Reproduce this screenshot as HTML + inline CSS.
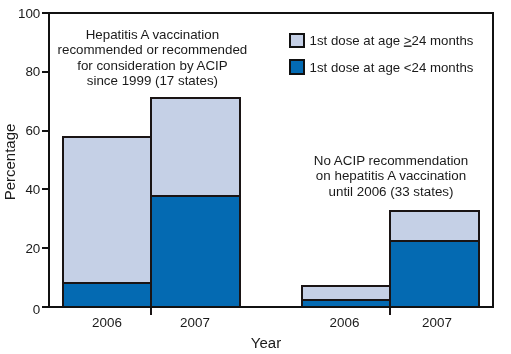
<!DOCTYPE html>
<html><head><meta charset="utf-8">
<style>
html,body{margin:0;padding:0;background:#fff;}
body{width:511px;height:354px;overflow:hidden;}
svg{display:block;will-change:transform;}
text{font-family:"Liberation Sans", sans-serif;fill:#1a1a1a;}
</style></head>
<body>
<svg width="511" height="354" viewBox="0 0 511 354">
<rect x="0" y="0" width="511" height="354" fill="#fff"/>
<g shape-rendering="crispEdges">
<rect x="62" y="136" width="90" height="171" fill="#c5d0e6"/>
<rect x="62" y="282" width="90" height="25" fill="#046ab2"/>
<rect x="150" y="97" width="91" height="210" fill="#c5d0e6"/>
<rect x="150" y="195" width="91" height="112" fill="#046ab2"/>
<rect x="301" y="285" width="90" height="22" fill="#c5d0e6"/>
<rect x="301" y="299" width="90" height="8" fill="#046ab2"/>
<rect x="389" y="210" width="91" height="97" fill="#c5d0e6"/>
<rect x="389" y="240" width="91" height="67" fill="#046ab2"/>
<g fill="#1a1414">
<rect x="62" y="136" width="2" height="171"/>
<rect x="62" y="136" width="90" height="2"/>
<rect x="62" y="282" width="90" height="2"/>
<rect x="150" y="136" width="2" height="171"/>
<rect x="150" y="97" width="2" height="218"/>
<rect x="150" y="97" width="91" height="2"/>
<rect x="150" y="195" width="91" height="2"/>
<rect x="239" y="97" width="2" height="210"/>
<rect x="301" y="285" width="2" height="22"/>
<rect x="301" y="285" width="90" height="2"/>
<rect x="301" y="299" width="90" height="2"/>
<rect x="389" y="285" width="2" height="22"/>
<rect x="389" y="210" width="2" height="105"/>
<rect x="389" y="210" width="91" height="2"/>
<rect x="389" y="240" width="91" height="2"/>
<rect x="478" y="210" width="2" height="97"/>
</g>
<g fill="#111">
<rect x="42" y="12" width="452" height="2"/>
<rect x="42" y="306" width="452" height="2"/>
<rect x="48" y="12" width="2" height="296"/>
<rect x="492" y="12" width="2" height="296"/>
<rect x="42" y="71" width="6" height="2"/>
<rect x="42" y="130" width="6" height="2"/>
<rect x="42" y="188" width="6" height="2"/>
<rect x="42" y="247" width="6" height="2"/>
</g></g>
<text font-size="13.4" text-anchor="end" transform="translate(40.3,17.6) scale(1,1.02)">100</text>
<text font-size="13.4" text-anchor="end" transform="translate(40.3,76.4) scale(1,1.02)">80</text>
<text font-size="13.4" text-anchor="end" transform="translate(40.3,135.2) scale(1,1.02)">60</text>
<text font-size="13.4" text-anchor="end" transform="translate(40.3,194.0) scale(1,1.02)">40</text>
<text font-size="13.4" text-anchor="end" transform="translate(40.3,252.8) scale(1,1.02)">20</text>
<text font-size="13.4" text-anchor="end" transform="translate(40.3,313.8) scale(1,1.02)">0</text>
<text font-size="15" text-anchor="middle" transform="translate(14.6,162) rotate(-90) scale(1,1.02)">Percentage</text>
<text font-size="13.4" text-anchor="middle" transform="translate(107,327) scale(1,1.02)">2006</text>
<text font-size="13.4" text-anchor="middle" transform="translate(195,327) scale(1,1.02)">2007</text>
<text font-size="13.4" text-anchor="middle" transform="translate(344.5,327) scale(1,1.02)">2006</text>
<text font-size="13.4" text-anchor="middle" transform="translate(437,327) scale(1,1.02)">2007</text>
<text font-size="15" text-anchor="middle" transform="translate(266,347.6) scale(1,1.02)">Year</text>
<text font-size="13.35" text-anchor="middle" transform="translate(152.4,39) scale(1,1.02)">Hepatitis A vaccination</text>
<text font-size="13.35" text-anchor="middle" transform="translate(152.4,54) scale(1,1.02)">recommended or recommended</text>
<text font-size="13.35" text-anchor="middle" transform="translate(152.4,69.5) scale(1,1.02)">for consideration by ACIP</text>
<text font-size="13.35" text-anchor="middle" transform="translate(152.4,84.8) scale(1,1.02)">since 1999 (17 states)</text>
<text font-size="13.4" text-anchor="middle" transform="translate(391,165) scale(1,1.02)">No ACIP recommendation</text>
<text font-size="13.4" text-anchor="middle" transform="translate(391,180) scale(1,1.02)">on hepatitis A vaccination</text>
<text font-size="13.4" text-anchor="middle" transform="translate(391,195.7) scale(1,1.02)">until 2006 (33 states)</text>
<rect x="290" y="34" width="14" height="13" fill="#c5d0e6" stroke="#111" stroke-width="2" shape-rendering="crispEdges"/>
<rect x="290" y="60" width="14" height="14" fill="#046ab2" stroke="#111" stroke-width="2" shape-rendering="crispEdges"/>
<text font-size="13.25" text-anchor="start" transform="translate(309.6,44.5) scale(1,1.02)">1st dose at age <tspan text-decoration="underline">&gt;</tspan>24 months</text>
<text font-size="13.25" text-anchor="start" transform="translate(309.6,71.5) scale(1,1.02)">1st dose at age &lt;24 months</text>
</svg>
</body></html>
